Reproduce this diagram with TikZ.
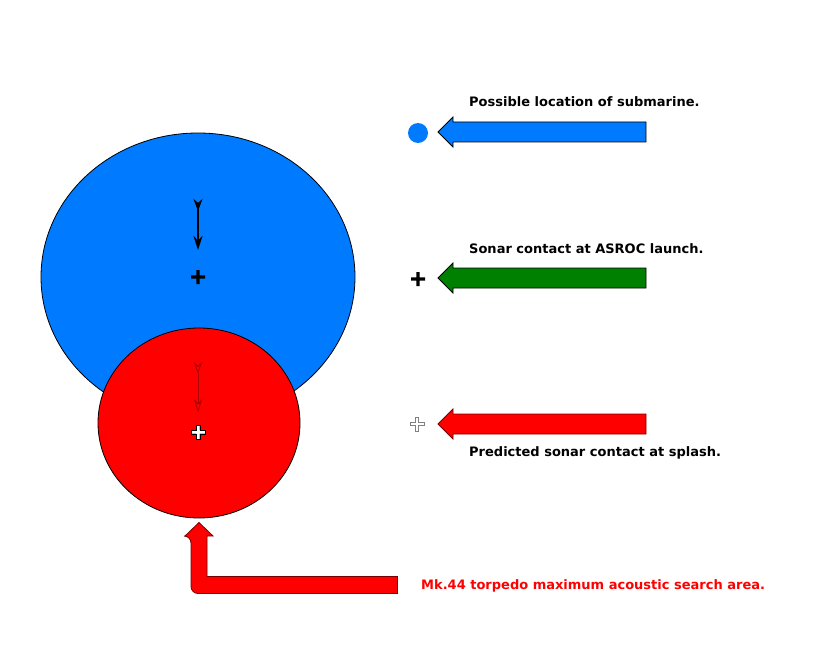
\documentclass[tikz,border=0pt]{standalone}
\usepackage{fontspec}
\setmainfont{DejaVu Sans}
\usetikzlibrary{shapes.geometric,arrows.meta}
\definecolor{sblue}{RGB}{0,122,255}
\definecolor{sgreen}{RGB}{0,128,0}
\definecolor{sred}{RGB}{255,0,0}
\definecolor{sdred}{RGB}{120,0,0}
\tikzset{
  lbl/.style={anchor=base west,inner sep=0pt,font=\bfseries\fontsize{13}{15}\selectfont},
  blockarrow/.style={line width=0.8pt,line join=miter},
  crossp/.pic={\path[pic actions] (-7,-1.7) -- (-1.7,-1.7) -- (-1.7,-7) -- (1.7,-7) -- (1.7,-1.7) -- (7,-1.7) -- (7,1.7) -- (1.7,1.7) -- (1.7,7) -- (-1.7,7) -- (-1.7,1.7) -- (-7,1.7) -- cycle;}
}
\begin{document}
\begin{tikzpicture}[x=1pt,y=-1pt]
\useasboundingbox[fill=white] (0,0) rectangle (820,650);
% circles
\node[ellipse,draw=black,fill=sblue,line width=0.8pt,minimum width=314,minimum height=288,inner sep=0pt] (blue) at (198,277) {};
\node[ellipse,draw=black,fill=sred,line width=0.8pt,minimum width=202,minimum height=190,inner sep=0pt] (red) at (199,423) {};
% arrows inside circles
\coordinate (b1) at (198,199);
\coordinate (b2) at (198,250);
\draw[line width=1.4pt,arrows={Stealth[reversed,length=12pt,width=9pt]-Stealth[length=14pt,width=9pt]}] (b1) -- (b2);
\coordinate (r1) at (198,362);
\coordinate (r2) at (198,413);
\draw[sdred!60!sred,line width=0.8pt,arrows={Stealth[reversed,open,length=12pt,width=8pt]-Stealth[open,length=14pt,width=8pt]}] (r1) -- (r2);
\pic[fill=black] at (198,277) {crossp};
\pic[fill=white,draw=black,line width=0.4pt] at (198,432) {crossp};
% legend markers
\node[circle,fill=sblue,minimum size=20,inner sep=0pt] (dot) at (418,133) {};
\pic[fill=black] at (418,279) {crossp};
\pic[fill=white,draw=gray,line width=0.6pt] at (417,424) {crossp};
% block arrows
\foreach \yy/\col/\dr/\nm in {132/sblue/black/ab, 278/sgreen/black/ag, 424/sred/sdred/ar}{
  \coordinate (\nm) at (438,\yy);
  \fill[\col,draw=\dr,blockarrow] (\nm) -- ++(15,-15) -- ++(0,5) -- ++(193,0) -- ++(0,20) -- ++(-193,0) -- ++(0,5) -- cycle;
}
% L arrow
\coordinate (lt) at (199,522.5);
\fill[sred,draw=sdred,blockarrow] (lt) -- (213,536) -- (207,536) -- (207,576.5) -- (397.5,576.5) -- (397.5,593.5) [rounded corners=7pt] -- (191,593.5) -- (191,536) [sharp corners] -- (185,536) -- cycle;
% labels
\node[lbl] (t1) at (469,106.5) {Possible location of submarine.};
\node[lbl] (t2) at (469,253) {Sonar contact at ASROC launch.};
\node[lbl] (t3) at (469,456) {Predicted sonar contact at splash.};
\node[lbl,text=sred] (t4) at (421,589.5) {Mk.44 torpedo maximum acoustic search area.};
\end{tikzpicture}
\end{document}
